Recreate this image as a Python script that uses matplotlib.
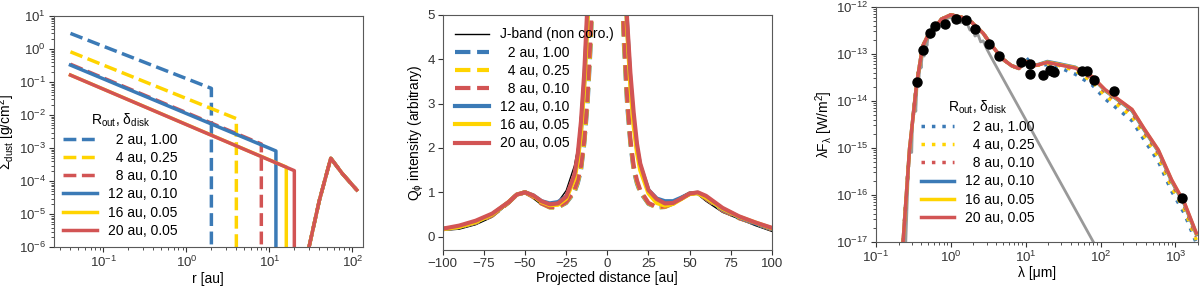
import numpy as np
import matplotlib
matplotlib.use('Agg')
import matplotlib.pyplot as plt

plt.rcParams['font.family'] = ['Liberation Sans', 'DejaVu Sans']
plt.rcParams['font.size'] = 9
plt.rcParams['axes.labelsize'] = 10
plt.rcParams['mathtext.fontset'] = 'custom'
plt.rcParams['mathtext.rm'] = 'Liberation Sans'
plt.rcParams['mathtext.it'] = 'Liberation Sans:italic'
plt.rcParams['mathtext.bf'] = 'Liberation Sans:bold'
plt.rcParams['axes.edgecolor'] = '0.35'
plt.rcParams['xtick.color'] = '0.2'
plt.rcParams['ytick.color'] = '0.2'
plt.rcParams['xtick.labelsize'] = 9.5
plt.rcParams['ytick.labelsize'] = 9.5
plt.rcParams['xtick.major.pad'] = 2
plt.rcParams['ytick.major.pad'] = 2
plt.rcParams['axes.labelpad'] = 1

BLUE = '#3b7ab6'
YELLOW = '#ffd400'
RED = '#d25454'
nan = np.nan

# ---------------- left panel: surface density ----------------
labels = ['  2 au, 1.00', '  4 au, 0.25', '  8 au, 0.10',
          '12 au, 0.10', '16 au, 0.05', '20 au, 0.05']
r_out = [2, 4, 8, 12, 16, 20]
sig_in = [3.0, 0.83, 0.35, 0.33, 0.165, 0.164]      # at r = 0.04 au
sig_edge = [0.065, 0.0079, 0.00135, 0.00083, 0.00027, 0.00021]
ring_r = [30, 40, 55, 76, 113]
ring_sig = [1e-6, 2.6e-5, 5.0e-4, 1.7e-4, 5.5e-5]

styles = [(BLUE, '--'), (YELLOW, '--'), (RED, '--'),
          (BLUE, '-'), (YELLOW, '-'), (RED, '-')]

# ---------------- middle panel: Q_phi profiles ----------------
x_prof = [-100, -90, -80, -70, -60, -55, -50, -45, -40, -35, -30, -25, -20,
          -18, -16, -14, -12, -10, -8,
          8, 10, 12, 14, 16, 18, 20, 25, 30, 35, 40, 45, 50, 55, 60, 70, 80, 90, 100]
jband = [0.14, 0.17, 0.27, 0.44, 0.75, 0.93, 1.0, 0.86, 0.72, 0.69, 0.78, 1.04, 1.6,
         2.0, 2.8, 3.9, 5.2, 7.0, 9.0,
         9.0, 7.0, 5.0, 3.3, 2.4, 1.9, 1.6, 1.05, 0.8, 0.7, 0.72, 0.83, 0.97, 0.95, 0.8, 0.55, 0.4, 0.25, 0.12]
prof_2au = [0.17, 0.22, 0.32, 0.48, 0.77, 0.95, 1.0, 0.9, 0.75, 0.66, 0.66, 0.76, 1.0,
            1.2, 1.5, 2.1, 3.0, 4.4, 6.5,
            6.5, 4.4, 3.0, 2.1, 1.5, 1.2, 1.0, 0.74, 0.66, 0.67, 0.75, 0.86, 0.97, 0.99, 0.86, 0.6, 0.42, 0.3, 0.17]
prof_4au = [0.17, 0.22, 0.32, 0.48, 0.77, 0.95, 1.0, 0.9, 0.75, 0.66, 0.66, 0.77, 1.02,
            1.23, 1.55, 2.15, 3.1, 4.5, 6.6,
            6.6, 4.5, 3.1, 2.15, 1.55, 1.23, 1.02, 0.75, 0.66, 0.67, 0.75, 0.86, 0.97, 0.99, 0.86, 0.6, 0.42, 0.3, 0.17]
prof_8au = [0.17, 0.22, 0.32, 0.48, 0.77, 0.95, 1.0, 0.9, 0.75, 0.67, 0.67, 0.78, 1.05,
            1.27, 1.6, 2.2, 3.2, 4.7, 6.8,
            6.8, 4.7, 3.2, 2.2, 1.6, 1.27, 1.05, 0.76, 0.67, 0.68, 0.76, 0.87, 0.97, 0.99, 0.86, 0.6, 0.42, 0.3, 0.17]
prof_12au = [0.17, 0.22, 0.33, 0.5, 0.78, 0.95, 1.0, 0.93, 0.8, 0.75, 0.78, 0.9, 1.35,
             1.75, 2.4, 3.5, 5.0, 7.2, 9.5,
             9.5, 6.5, 4.8, 3.5, 2.6, 2.0, 1.6, 1.05, 0.86, 0.8, 0.8, 0.88, 0.97, 0.99, 0.88, 0.62, 0.44, 0.3, 0.18]
prof_16au = [0.17, 0.22, 0.33, 0.5, 0.78, 0.95, 1.0, 0.92, 0.78, 0.71, 0.72, 0.86, 1.3,
             1.7, 2.35, 3.4, 4.9, 7.0, 9.5,
             9.5, 6.4, 4.7, 3.4, 2.5, 1.9, 1.5, 0.98, 0.76, 0.7, 0.74, 0.85, 0.96, 0.98, 0.88, 0.63, 0.45, 0.32, 0.19]
prof_20au = [0.18, 0.25, 0.36, 0.52, 0.78, 0.95, 1.0, 0.93, 0.8, 0.73, 0.75, 0.9, 1.4,
             1.85, 2.6, 3.7, 5.3, 7.5, 9.8,
             9.8, 6.6, 4.9, 3.7, 2.8, 2.1, 1.65, 1.05, 0.85, 0.75, 0.76, 0.86, 0.97, 1.0, 0.92, 0.65, 0.46, 0.32, 0.2]
profiles = [prof_2au, prof_4au, prof_8au, prof_12au, prof_16au, prof_20au]

# ---------------- right panel: SED ----------------
star_lam = [0.25, 0.27, 0.29, 0.30, 0.31, 0.33, 0.34, 0.36, 0.37, 0.39, 0.40, 0.42,
            0.44, 0.46, 0.48, 0.50, 0.53, 0.56, 0.59, 0.62, 0.66, 0.70, 0.75, 0.80,
            0.86, 0.92, 1.0, 1.08, 1.15, 1.25, 1.35, 1.45, 1.55, 1.65, 1.8, 1.95,
            2.1, 2.3, 2.5, 2.7, 3.0, 3.5, 80]
star_flux = [1e-17, 3e-16, 1.5e-15, 8e-16, 5e-15, 1.2e-14, 6e-15, 4e-14, 2e-14, 8e-14, 5e-14, 1.2e-13,
             9e-14, 1.9e-13, 1.5e-13, 2.6e-13, 2.2e-13, 3.6e-13, 3.0e-13, 4.3e-13, 3.8e-13, 5.0e-13, 4.6e-13, 5.6e-13,
             4.8e-13, 6.0e-13, 5.8e-13, 6.0e-13, 5.2e-13, 5.7e-13, 4.6e-13, 5.2e-13, 4.2e-13, 4.4e-13, 3.2e-13, 3.4e-13,
             2.4e-13, 2.6e-13, 1.8e-13, 1.9e-13, 1.3e-13, 8.2e-14, 1e-17]

phot_lam = [0.354, 0.425, 0.53, 0.62, 0.84, 1.18, 1.6, 2.08, 3.26, 4.38, 8.6, 11.3,
            11.4, 17, 20.8, 22.6, 23.8, 56.5, 65.8, 82, 149, 1225]
phot_flux = [2.5e-14, 1.23e-13, 2.8e-13, 3.9e-13, 4.4e-13, 5.6e-13, 5.2e-13, 3.4e-13, 1.63e-13, 8.9e-14, 6.6e-14, 6.1e-14,
             3.8e-14, 3.5e-14, 4.6e-14, 4.4e-14, 4.1e-14, 4.4e-14, 4.4e-14, 2.8e-14, 1.6e-14, 8.7e-17]

sed_lam = [0.23, 0.28, 0.35, 0.42, 0.5, 0.6, 0.75, 0.9, 1.0, 1.4, 1.9, 2.7, 3.6, 4.9,
           6.5, 8.1, 10, 12.3, 15, 19.5, 27.5, 46, 77, 115, 174, 263, 380, 590, 890, 1320, 1900]
sed_2au = [1e-17, 9.1e-16, 2.4e-14, 1.45e-13, 2.6e-13, 3.5e-13, 5.5e-13, 6.3e-13, 6.8e-13, 6.0e-13, 4.7e-13, 2.75e-13, 1.45e-13, 7.9e-14,
           5.6e-14, 5.0e-14, 8.5e-14, 5.8e-14, 5.8e-14, 5.9e-14, 5.2e-14, 3.7e-14, 2.2e-14, 1.1e-14, 6.5e-15, 3.8e-15, 1.5e-15, 5.2e-16, 1.2e-16, 4.0e-17, 9.5e-18]
sed_4au = [1e-17, 9.1e-16, 2.4e-14, 1.45e-13, 2.6e-13, 3.5e-13, 5.5e-13, 6.3e-13, 6.8e-13, 6.0e-13, 4.7e-13, 2.75e-13, 1.45e-13, 7.8e-14,
           5.6e-14, 4.9e-14, 7.6e-14, 5.6e-14, 5.8e-14, 6.2e-14, 5.7e-14, 4.4e-14, 2.6e-14, 1.3e-14, 7.9e-15, 4.7e-15, 1.85e-15, 6.4e-16, 1.45e-16, 4.8e-17, 1.1e-17]
sed_8au = [1e-17, 9.1e-16, 2.4e-14, 1.45e-13, 2.6e-13, 3.5e-13, 5.5e-13, 6.3e-13, 6.8e-13, 6.0e-13, 4.7e-13, 2.75e-13, 1.45e-13, 7.8e-14,
           5.6e-14, 4.9e-14, 7.2e-14, 5.5e-14, 5.9e-14, 6.6e-14, 6.0e-14, 4.8e-14, 3.0e-14, 1.55e-14, 9.5e-15, 5.7e-15, 2.25e-15, 7.8e-16, 1.8e-16, 5.8e-17, 1.3e-17]
sed_12au = [1e-17, 9.1e-16, 2.4e-14, 1.45e-13, 2.6e-13, 3.5e-13, 5.5e-13, 6.3e-13, 6.8e-13, 6.0e-13, 4.7e-13, 2.75e-13, 1.45e-13, 7.8e-14,
            5.6e-14, 4.9e-14, 7.1e-14, 5.6e-14, 6.0e-14, 6.9e-14, 6.2e-14, 5.2e-14, 3.2e-14, 1.65e-14, 1.02e-14, 6.2e-15, 2.45e-15, 8.5e-16, 1.95e-16, 6.3e-17, 1.45e-17]
sed_16au = [1e-17, 9.1e-16, 2.4e-14, 1.45e-13, 2.6e-13, 3.5e-13, 5.5e-13, 6.3e-13, 6.8e-13, 6.0e-13, 4.7e-13, 2.75e-13, 1.45e-13, 7.8e-14,
            5.6e-14, 4.9e-14, 7.0e-14, 5.5e-14, 5.9e-14, 6.7e-14, 6.0e-14, 5.1e-14, 3.3e-14, 1.7e-14, 1.05e-14, 6.5e-15, 2.55e-15, 8.9e-16, 2.05e-16, 6.6e-17, 1.5e-17]
sed_20au = [1e-17, 9.1e-16, 2.4e-14, 1.45e-13, 2.6e-13, 3.5e-13, 5.5e-13, 6.3e-13, 6.8e-13, 6.0e-13, 4.7e-13, 2.75e-13, 1.45e-13, 7.8e-14,
            5.6e-14, 4.9e-14, 6.9e-14, 5.5e-14, 5.9e-14, 6.6e-14, 5.9e-14, 5.0e-14, 3.3e-14, 1.74e-14, 1.07e-14, 6.6e-15, 2.6e-15, 9.1e-16, 2.1e-16, 6.8e-17, 1.55e-17]
seds = [sed_2au, sed_4au, sed_8au, sed_12au, sed_16au, sed_20au]

fig = plt.figure(figsize=(12, 2.88), dpi=100)
ax1 = fig.add_axes([0.0446, 0.141, 0.258, 0.803])
ax2 = fig.add_axes([0.369, 0.132, 0.2742, 0.816])
ax3 = fig.add_axes([0.730, 0.160, 0.2683, 0.816])

legend_title = r'R$_{\mathrm{out}}$, δ$_{\mathrm{disk}}$'

# left panel
for i, (c, ls) in enumerate(styles):
    rr = [0.04, r_out[i], r_out[i], nan] + ring_r
    ss = [sig_in[i], sig_edge[i], 1e-8, nan] + ring_sig
    ax1.plot(rr, ss, color=c, ls=ls, lw=2.5, label=labels[i])
ax1.set_xscale('log')
ax1.set_yscale('log')
ax1.set_xlim(0.025, 135)
ax1.set_ylim(1e-6, 10)
ax1.set_xlabel('r [au]')
ax1.set_ylabel(r'Σ$_{\mathrm{dust}}$ [g/cm$^2$]')
leg1 = ax1.legend(loc='lower left', frameon=False, title=legend_title, fontsize=10,
                  title_fontsize=10, borderaxespad=0.3, handlelength=2.4, labelspacing=0.3)

# middle panel
ax2.plot(x_prof, jband, color='black', lw=1, label='J-band (non coro.)')
for i, (c, ls) in enumerate(styles):
    ax2.plot(x_prof, profiles[i], color=c, ls=ls, lw=3, label=labels[i])
ax2.set_xlim(-100, 100)
ax2.set_ylim(-0.3, 5)
ax2.set_xticks([-100, -75, -50, -25, 0, 25, 50, 75, 100])
ax2.set_yticks([0, 1, 2, 3, 4, 5])
ax2.set_xlabel('Projected distance [au]')
ax2.set_ylabel(r'Q$_{\mathrm{ϕ}}$ intensity (arbitrary)')
ax2.legend(loc='upper left', frameon=False, fontsize=10, handlelength=2.4, labelspacing=0.3)

# right panel
ax3.plot(star_lam, star_flux, color='0.6', lw=2)
for i, (c, ls) in enumerate(styles):
    style = (0, (1, 2)) if ls == '--' else '-'
    ax3.plot(sed_lam, seds[i], color=c, ls=style, lw=2.5, label=labels[i])
ax3.plot(phot_lam, phot_flux, 'o', color='black', ms=6.5)
ax3.set_xscale('log')
ax3.set_yscale('log')
ax3.set_xlim(0.1, 2000)
ax3.set_ylim(1e-17, 1e-12)
ax3.set_xlabel('λ [μm]')
ax3.set_ylabel(r'λF$_{\mathrm{λ}}$ [W/m$^2$]')
ax3.legend(loc='lower left', bbox_to_anchor=(0.1, 0.02), frameon=False, fontsize=10,
           title=legend_title, title_fontsize=10, handlelength=2.4, labelspacing=0.3)

fig.savefig('out.png', dpi=100)
